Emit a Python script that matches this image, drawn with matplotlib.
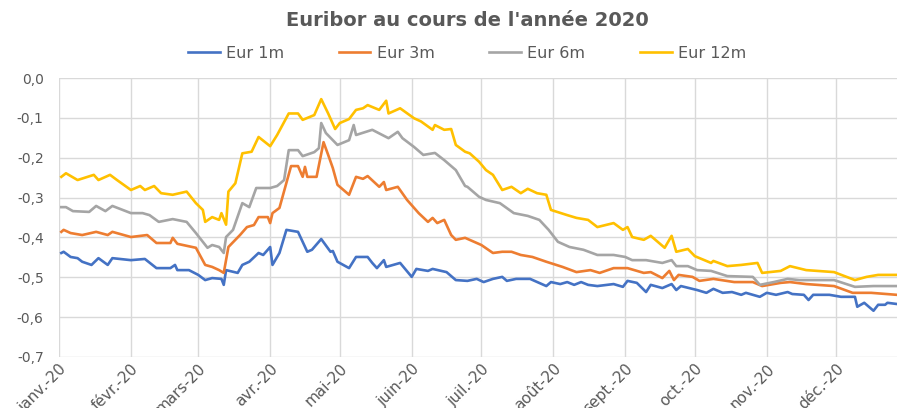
import pandas as pd
from matplotlib import pyplot as plt

# jours depuis le 1er janvier 2020 / valeurs
jours_1m = [1, 2, 5, 8, 10, 14, 17, 21, 23, 31, 37, 42, 48, 50, 51, 56, 60, 63, 66, 70, 71, 72,
            77, 79, 82, 86, 88, 91, 92, 95, 98, 103, 107, 109, 113, 117, 118, 120, 125, 128, 133,
            135, 137, 140, 141, 147, 152, 154, 159, 161, 167, 171, 176, 180, 183, 187, 191, 193,
            197, 203, 210, 212, 216, 219, 222, 225, 228, 232, 239, 243, 245, 249, 253, 255, 260,
            264, 266, 268, 275, 279, 282, 286, 290, 294, 296, 302, 305, 309, 314, 316, 321, 323,
            325, 332, 337, 343, 344, 347, 351, 353, 356, 357, 361]
eur_1m = [-0.439, -0.436, -0.449, -0.452, -0.461, -0.469, -0.452, -0.469, -0.452, -0.457, -0.454,
          -0.477, -0.477, -0.469, -0.482, -0.482, -0.494, -0.507, -0.502, -0.504, -0.519, -0.482,
          -0.489, -0.469, -0.461, -0.439, -0.444, -0.424, -0.469, -0.439, -0.381, -0.386, -0.436,
          -0.431, -0.404, -0.436, -0.434, -0.461, -0.477, -0.449, -0.449, -0.464, -0.477, -0.457,
          -0.474, -0.464, -0.499, -0.479, -0.484, -0.479, -0.487, -0.507, -0.509, -0.504, -0.512,
          -0.504, -0.499, -0.509, -0.504, -0.504, -0.522, -0.512, -0.517, -0.512, -0.519, -0.512,
          -0.519, -0.522, -0.517, -0.524, -0.509, -0.514, -0.537, -0.519, -0.527, -0.517, -0.532,
          -0.522, -0.532, -0.539, -0.529, -0.539, -0.537, -0.544, -0.539, -0.549, -0.539, -0.544,
          -0.537, -0.542, -0.544, -0.557, -0.544, -0.544, -0.549, -0.549, -0.574, -0.564, -0.584,
          -0.569, -0.569, -0.564, -0.567]

jours_3m = [1, 2, 5, 10, 16, 21, 23, 31, 38, 42, 48, 49, 51, 59, 63, 66, 69, 71, 73, 78, 81, 84,
            86, 90, 91, 92, 95, 100, 103, 105, 106, 107, 111, 114, 116, 118, 120, 125, 128, 131,
            133, 138, 140, 141, 146, 150, 155, 159, 161, 163, 166, 169, 171, 175, 182, 187, 191,
            195, 199, 204, 210, 217, 223, 229, 233, 239, 245, 252, 255, 260, 263, 265, 267, 273,
            276, 282, 291, 299, 303, 311, 315, 322, 334, 342, 350, 361]
eur_3m = [-0.386, -0.381, -0.389, -0.394, -0.386, -0.394, -0.386, -0.399, -0.394, -0.414, -0.414,
          -0.401, -0.416, -0.426, -0.469, -0.474, -0.482, -0.489, -0.424, -0.394, -0.374, -0.369,
          -0.349, -0.349, -0.364, -0.339, -0.326, -0.221, -0.221, -0.248, -0.223, -0.248, -0.248,
          -0.161, -0.193, -0.226, -0.268, -0.293, -0.248, -0.253, -0.246, -0.273, -0.261, -0.281,
          -0.273, -0.306, -0.339, -0.361, -0.351, -0.364, -0.356, -0.394, -0.406, -0.401, -0.419,
          -0.439, -0.436, -0.436, -0.444, -0.449, -0.461, -0.474, -0.487, -0.482, -0.489, -0.477,
          -0.477, -0.489, -0.487, -0.502, -0.484, -0.507, -0.494, -0.499, -0.509, -0.504, -0.512,
          -0.512, -0.522, -0.514, -0.512, -0.517, -0.522, -0.539, -0.539, -0.544]

jours_6m = [1, 3, 6, 13, 16, 20, 23, 31, 36, 39, 43, 49, 55, 59, 64, 66, 69, 71, 72, 75, 79, 82,
            85, 91, 94, 97, 99, 103, 105, 110, 112, 113, 115, 120, 125, 127, 128, 135, 142, 146,
            148, 153, 157, 162, 166, 171, 175, 176, 181, 184, 190, 196, 202, 207, 211, 215, 220,
            226, 232, 239, 244, 247, 253, 260, 264, 266, 271, 275, 281, 288, 299, 302, 308, 314,
            319, 334, 343, 351, 361]
eur_6m = [-0.324, -0.324, -0.334, -0.336, -0.321, -0.334, -0.321, -0.339, -0.339, -0.344, -0.361,
          -0.354, -0.361, -0.389, -0.426, -0.419, -0.424, -0.439, -0.399, -0.381, -0.314, -0.324,
          -0.276, -0.276, -0.271, -0.256, -0.181, -0.181, -0.196, -0.186, -0.176, -0.113, -0.138,
          -0.168, -0.156, -0.118, -0.143, -0.130, -0.151, -0.135, -0.151, -0.173, -0.193, -0.188,
          -0.206, -0.231, -0.271, -0.273, -0.298, -0.306, -0.314, -0.339, -0.346, -0.356, -0.381,
          -0.411, -0.424, -0.431, -0.444, -0.444, -0.449, -0.457, -0.457, -0.464, -0.457, -0.472,
          -0.472, -0.482, -0.484, -0.497, -0.499, -0.519, -0.512, -0.504, -0.507, -0.507, -0.524,
          -0.522, -0.522]

jours_12m = [1, 3, 8, 15, 17, 22, 25, 31, 35, 37, 41, 44, 49, 55, 59, 62, 63, 66, 69, 70, 72, 73,
             76, 79, 83, 86, 91, 94, 99, 103, 105, 110, 113, 116, 119, 121, 125, 128, 131, 133,
             138, 141, 142, 147, 153, 156, 161, 162, 166, 169, 171, 175, 177, 181, 184, 187, 191,
             195, 199, 202, 206, 210, 212, 219, 223, 228, 232, 239, 243, 245, 247, 252, 255, 261,
             264, 266, 271, 274, 281, 282, 288, 294, 301, 303, 311, 315, 322, 334, 343, 348, 353,
             361]
eur_12m = [-0.248, -0.239, -0.256, -0.243, -0.256, -0.243, -0.256, -0.281, -0.271, -0.281, -0.271,
           -0.289, -0.293, -0.285, -0.314, -0.331, -0.361, -0.349, -0.356, -0.339, -0.368, -0.285,
           -0.264, -0.189, -0.185, -0.148, -0.171, -0.143, -0.089, -0.089, -0.105, -0.093, -0.053,
           -0.089, -0.128, -0.113, -0.103, -0.080, -0.076, -0.068, -0.080, -0.057, -0.089, -0.076,
           -0.101, -0.109, -0.130, -0.118, -0.130, -0.128, -0.168, -0.185, -0.189, -0.210, -0.231,
           -0.243, -0.281, -0.273, -0.289, -0.278, -0.289, -0.293, -0.331, -0.344, -0.351, -0.356,
           -0.374, -0.364, -0.381, -0.374, -0.399, -0.406, -0.396, -0.426, -0.396, -0.436, -0.429,
           -0.447, -0.464, -0.459, -0.472, -0.469, -0.464, -0.489, -0.484, -0.472, -0.482, -0.487,
           -0.507, -0.499, -0.494, -0.494]

mois = ['janv.-20', 'févr.-20', 'mars-20', 'avr.-20', 'mai-20', 'juin-20',
        'juil.-20', 'août-20', 'sept.-20', 'oct.-20', 'nov.-20', 'déc.-20']
y_ticks = [0.0, -0.1, -0.2, -0.3, -0.4, -0.5, -0.6, -0.7]
y_labels = ['0,0', '-0,1', '-0,2', '-0,3', '-0,4', '-0,5', '-0,6', '-0,7']

series = [('Eur 1m', jours_1m, eur_1m, '#4472C4'),
          ('Eur 3m', jours_3m, eur_3m, '#ED7D31'),
          ('Eur 6m', jours_6m, eur_6m, '#A5A5A5'),
          ('Eur 12m', jours_12m, eur_12m, '#FFC000')]

plt.rcParams['font.family'] = ['DejaVu Sans']
gris = '#595959'
debut = pd.Timestamp('2020-01-01')

fig = plt.figure(figsize=(8.97, 4.08), dpi=100)
ax = fig.add_axes([59 / 897, 1 - 357 / 408, (906 - 59) / 897, (357 - 78) / 408])

lignes = []
for nom, jours, vals, couleur in series:
    dates = debut + pd.to_timedelta(jours, unit='D')
    l, = ax.plot(dates, vals, color=couleur, lw=1.9, label=nom)
    lignes.append(l)

ax.set_xlim(debut, pd.Timestamp('2020-12-31'))
ax.set_ylim(-0.7, 0.0)
ax.set_yticks(y_ticks)
ax.set_yticklabels(y_labels)
mois_dates = pd.date_range('2020-01-01', periods=12, freq='MS')
ax.set_xticks(mois_dates)
ax.set_xticklabels(mois, rotation=45, ha='right', va='top', rotation_mode='anchor')
ax.tick_params(axis='y', length=0, colors=gris, labelsize=10, pad=11)
ax.tick_params(axis='x', length=0, colors=gris, labelsize=11, pad=3)
ax.grid(True, color='#D9D9D9', lw=1)
ax.set_axisbelow(True)
for s in ax.spines.values():
    s.set_visible(False)

fig.text(467 / 897, 1 - 21 / 408, "Euribor au cours de l'année 2020", ha='center', va='center',
         fontsize=14, fontweight='bold', color=gris)
fig.legend(handles=lignes, loc='center', bbox_to_anchor=(467 / 897, 1 - 53 / 408), ncol=4,
           frameon=False, handlelength=2.0, handletextpad=0.4, columnspacing=3.4,
           fontsize=11.5, labelcolor=gris)

fig.savefig('out.png', dpi=100)
